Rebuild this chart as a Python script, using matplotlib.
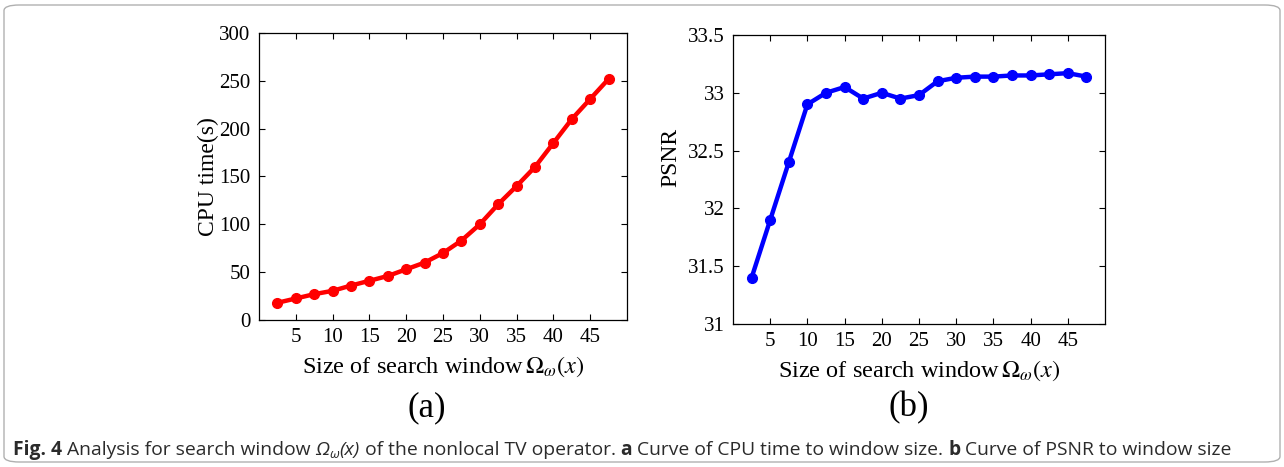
import matplotlib
matplotlib.use("Agg")
import matplotlib.pyplot as plt
from matplotlib.patches import FancyBboxPatch

window = [2.5, 5, 7.5, 10, 12.5, 15, 17.5, 20, 22.5, 25, 27.5, 30, 32.5, 35, 37.5, 40, 42.5, 45, 47.5]
cpu_time = [18, 22.5, 27, 30.5, 36, 41, 46, 53, 60, 70, 83, 100, 121, 140, 160, 185, 210, 231, 252]
psnr = [31.4, 31.9, 32.4, 32.9, 33.0, 33.05, 32.95, 33.0, 32.95, 32.98, 33.1, 33.13, 33.14, 33.14, 33.15, 33.15, 33.16, 33.17, 33.14]
xticks = [5, 10, 15, 20, 25, 30, 35, 40, 45]
cpu_ticks = [0, 50, 100, 150, 200, 250, 300]
psnr_ticks = [31, 31.5, 32, 32.5, 33, 33.5]
psnr_ticklabels = ["31", "31.5", "32", "32.5", "33", "33.5"]

plt.rcParams['font.family'] = ['Liberation Serif', 'DejaVu Serif']
plt.rcParams['mathtext.fontset'] = 'stix'

W, H = 1284, 467
fig = plt.figure(figsize=(W / 100, H / 100), dpi=100)

def rect(l, t, r, b):
    return [l / W, 1 - b / H, (r - l) / W, (b - t) / H]

ax1 = fig.add_axes(rect(259, 33, 627, 320))
ax2 = fig.add_axes(rect(733, 35, 1105, 324))

xlabel = r"Size of search window$\,\Omega_{\omega}(x)$"
for ax in (ax1, ax2):
    ax.set_xlim(0, 50)
    ax.set_xticks(xticks)
    ax.tick_params(direction='in', top=True, right=True, labelsize=15, length=4, width=0.8, pad=6)
    for s in ax.spines.values():
        s.set_linewidth(0.9)
    ax.set_xlabel(xlabel, fontsize=17.5, labelpad=5)

ax1.plot(window, cpu_time, color='#ff0000', lw=3.2, marker='o', ms=7)
ax1.set_ylim(0, 300)
ax1.set_yticks(cpu_ticks)
ax1.set_ylabel("CPU time(s)", fontsize=17, labelpad=0)

ax2.plot(window, psnr, color='#0000ff', lw=3.2, marker='o', ms=7)
ax2.set_ylim(31, 33.5)
ax2.set_yticks(psnr_ticks)
ax2.set_yticklabels(psnr_ticklabels)
ax2.set_ylabel("PSNR", fontsize=17)
ax2.yaxis.set_label_coords(-0.14, 0.578)

fig.text(427 / W, 1 - 408 / H, "(a)", fontsize=25, ha='center', va='center')
fig.text(909 / W, 1 - 408 / H, "(b)", fontsize=25, ha='center', va='center')

box = FancyBboxPatch((4 / W, 5 / H), (W - 8) / W, (H - 10) / H,
                     boxstyle="round,pad=0,rounding_size=0.012",
                     transform=fig.transFigure, fill=False, ec='#b0b0b0', lw=1.0)
fig.patches.append(box)

# caption laid out piece by piece
cap_font = ['Open Sans', 'DejaVu Sans']
pieces = [
    ("Fig. 4", 'bold', 'normal', 1.0, 0),
    (" Analysis for search window ", 'normal', 'normal', 1.0, 0),
    ("\u03a9", 'normal', 'italic', 1.0, 0),
    ("\u03c9", 'normal', 'italic', 0.7, -3),
    ("(x)", 'normal', 'italic', 1.0, 0),
    (" of the nonlocal TV operator. ", 'normal', 'normal', 1.0, 0),
    ("a", 'bold', 'normal', 1.0, 0),
    (" Curve of CPU time to window size. ", 'normal', 'normal', 1.0, 0),
    ("b", 'bold', 'normal', 1.0, 0),
    (" Curve of PSNR to window size", 'normal', 'normal', 1.0, 0),
]
renderer = fig.canvas.get_renderer()

def width_of(s, fs, weight, style):
    t = fig.text(0, 0, s + "|", fontsize=fs, family=cap_font, weight=weight, style=style)
    b = fig.text(0, 0, "|", fontsize=fs, family=cap_font, weight=weight, style=style)
    w = t.get_window_extent(renderer).width - b.get_window_extent(renderer).width
    t.remove(); b.remove()
    return w

base = 12.0
total = sum(width_of(s, base * sc, wt, st) for s, wt, st, sc, dy in pieces)
fs = base * (1222 - 13) / total
x = 13.0
ycap = 455
for s, wt, st, sc, dy in pieces:
    fig.text(x / W, 1 - (ycap - dy) / H, s, fontsize=fs * sc, family=cap_font, weight=wt,
             style=st, ha='left', va='baseline', color='#2b2b2b')
    x += width_of(s, fs * sc, wt, st)

fig.savefig("out.png", dpi=100)
